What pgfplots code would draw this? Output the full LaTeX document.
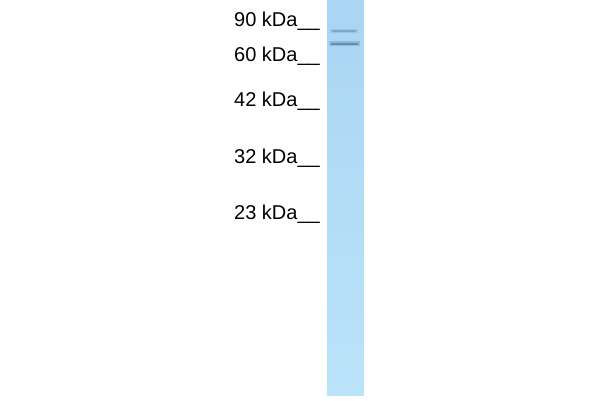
\documentclass[border=0pt]{standalone}
\usepackage{pgfplots}
\pgfplotsset{compat=1.18}
\usepackage{fontspec}
\setmainfont{Liberation Sans}
\definecolor{bandA}{RGB}{145,182,214}
\definecolor{bandAc}{RGB}{118,155,190}
\definecolor{bandB}{RGB}{122,163,200}
\definecolor{bandBc}{RGB}{92,130,168}
\begin{document}
\begin{tikzpicture}
\begin{axis}[
  scale only axis, width=600pt, height=400pt,
  xmin=0, xmax=600, ymin=0, ymax=400, y dir=reverse,
  hide axis, clip=true,
]
% white background
\addplot[fill=white, draw=none] coordinates {(0,0) (600,0) (600,400) (0,400) (0,0)};
% lane with vertical gradient
\addplot[patch, patch type=rectangle, shader=interp, point meta=explicit,
  colormap={lanemap}{rgb255=(170,213,243) rgb255=(178,220,246) rgb255=(187,227,250)}]
  coordinates {(327,0) [0] (363,0) [0] (363,395) [1] (327,395) [1]};
% band 1 (~31)
\addplot[draw=bandA, line width=4.5pt, opacity=0.5] coordinates {(330,31) (358,31)};
\addplot[draw=bandAc, line width=2pt, opacity=0.7] coordinates {(332,31) (356,31)};
% band 2 (~44)
\addplot[draw=bandB, line width=5pt, opacity=0.55] coordinates {(329,43.8) (360,43.8)};
\addplot[draw=bandBc, line width=2.2pt, opacity=0.8] coordinates {(331,43.8) (358,43.8)};
% marker labels
\node[anchor=base west, inner sep=0pt, font=\fontsize{20}{22}\selectfont] at (axis cs:234,26) {90 kDa\_\_};
\node[anchor=base west, inner sep=0pt, font=\fontsize{20}{22}\selectfont] at (axis cs:234,61) {60 kDa\_\_};
\node[anchor=base west, inner sep=0pt, font=\fontsize{20}{22}\selectfont] at (axis cs:234,106) {42 kDa\_\_};
\node[anchor=base west, inner sep=0pt, font=\fontsize{20}{22}\selectfont] at (axis cs:234,163) {32 kDa\_\_};
\node[anchor=base west, inner sep=0pt, font=\fontsize{20}{22}\selectfont] at (axis cs:234,219) {23 kDa\_\_};
\end{axis}
\end{tikzpicture}
\end{document}
